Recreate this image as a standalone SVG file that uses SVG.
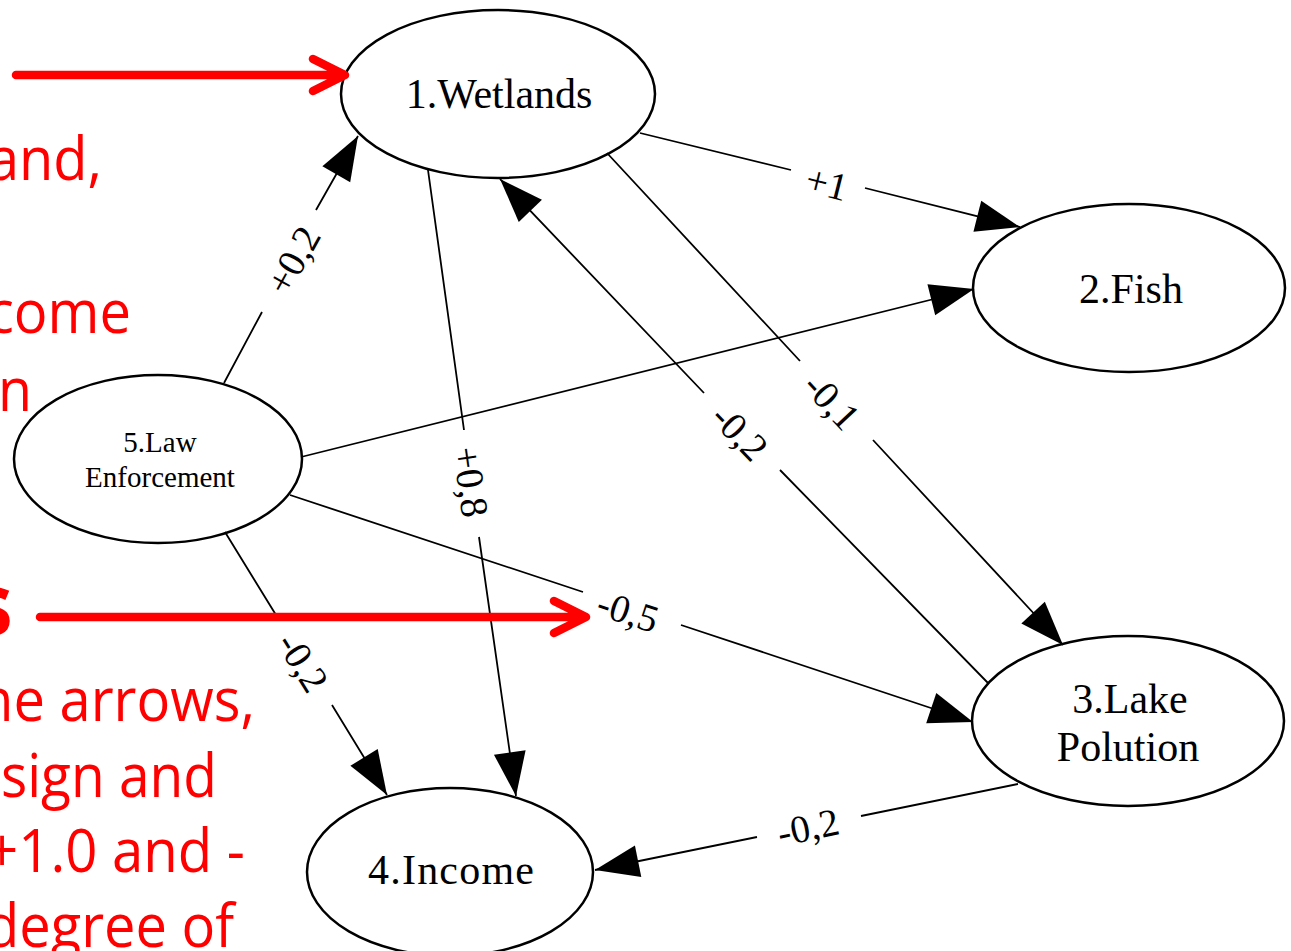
<svg xmlns="http://www.w3.org/2000/svg" width="1291" height="951" viewBox="0 0 1291 951">
<style>
.node ellipse{fill:#fff;stroke:#000;stroke-width:2.5}
.nl{font-family:"Liberation Serif","Times New Roman",serif;font-size:42px;fill:#000;text-anchor:middle}
.ns{font-family:"Liberation Serif","Times New Roman",serif;font-size:29px;fill:#000;text-anchor:middle}
.edge{fill:none;stroke:#000;stroke-width:1.8;marker-end:url(#ah)}
.el{font-family:"Liberation Serif","Times New Roman",serif;font-size:39px;fill:#000;text-anchor:middle;dominant-baseline:central}
.rt{font-family:"Open Sans","Noto Sans","Liberation Sans",sans-serif;font-size:60px;fill:#ff0000;text-anchor:end}
.ra{fill:none;stroke:#ff0000;stroke-width:8.5;stroke-linecap:round;stroke-linejoin:round}
</style>
<defs>
<marker id="ah" markerUnits="userSpaceOnUse" markerWidth="46" markerHeight="34" refX="44" refY="16" orient="auto" overflow="visible">
<path d="M0,0 L44,16 L0,32 Z" fill="#000"/>
</marker>
</defs>
<rect width="1291" height="951" fill="#fff"/>

<g id="node-wetlands" class="node"><ellipse cx="498" cy="94" rx="157" ry="84"/><text class="nl" x="499" y="108">1.Wetlands</text></g>
<g id="node-fish" class="node"><ellipse cx="1129" cy="288" rx="156" ry="84"/><text class="nl" x="1131" y="303">2.Fish</text></g>
<g id="node-lake" class="node"><ellipse cx="1128" cy="721" rx="156" ry="85"/><text class="nl" x="1130" y="713">3.Lake</text><text class="nl" x="1128" y="761">Polution</text></g>
<g id="node-income" class="node"><ellipse cx="450" cy="872" rx="143" ry="84"/><text class="nl" x="451" y="884" textLength="166" lengthAdjust="spacing">4.Income</text></g>
<g id="node-law" class="node"><ellipse cx="158" cy="459" rx="144" ry="84"/><text class="ns" x="160" y="452">5.Law</text><text class="ns" x="160" y="487">Enforcement</text></g>

<g id="connectors">
<path class="edge" d="M224,383 L262,312 M316,210 L358,136"/>
<path class="edge" d="M640,133 L791,170 M865,188 L1020,227"/>
<path class="edge" d="M301,457 L974,289"/>
<path class="edge" d="M428,170 L464,430 M479,537 L516,796"/>
<path class="edge" d="M988,683 L780,470 M704,393 L500,179"/>
<path class="edge" d="M607,153 L800,361 M873,440 L1063,645"/>
<path class="edge" d="M290,495 L583,592 M681,625 L973,722"/>
<path class="edge" d="M225,532 L276,615 M332,705 L387,795"/>
<path class="edge" d="M1018,784 L861,816 M757,837 L595,870"/>
<text class="el" transform="translate(293,260) rotate(-61)">+0,2</text>
<text class="el" transform="translate(827,183) rotate(14)">+1</text>
<text class="el" transform="translate(471,482) rotate(82)">+0,8</text>
<text class="el" transform="translate(740,432) rotate(46)">-0,2</text>
<text class="el" transform="translate(832,401) rotate(47)">-0,1</text>
<text class="el" transform="translate(628,611) rotate(18)">-0,5</text>
<text class="el" transform="translate(303,662) rotate(58)">-0,2</text>
<text class="el" transform="translate(808,827) rotate(-12)">-0,2</text>
</g>

<g id="annotations">
<text class="rt" x="102" y="180" textLength="114" lengthAdjust="spacingAndGlyphs">and,</text>
<text class="rt" x="131" y="333" textLength="144" lengthAdjust="spacingAndGlyphs">come</text>
<text class="rt" x="32" y="411" textLength="34" lengthAdjust="spacingAndGlyphs">n</text>
<text class="rt" x="13" y="635" style="font-size:86px;font-weight:bold">s</text>
<text class="rt" x="255" y="721" textLength="276" lengthAdjust="spacingAndGlyphs">he arrows,</text>
<text class="rt" x="217" y="797" textLength="216" lengthAdjust="spacingAndGlyphs">sign and</text>
<text class="rt" x="245" y="872" textLength="259" lengthAdjust="spacingAndGlyphs">+1.0 and -</text>
<text class="rt" x="234" y="947" textLength="249" lengthAdjust="spacingAndGlyphs">degree of</text>
<path class="ra" d="M16,75 L344,75 M313,59 L345,75 L313,91"/>
<path class="ra" d="M40,617 L585,617 M554,601 L586,617 L554,633"/>
</g>
</svg>
